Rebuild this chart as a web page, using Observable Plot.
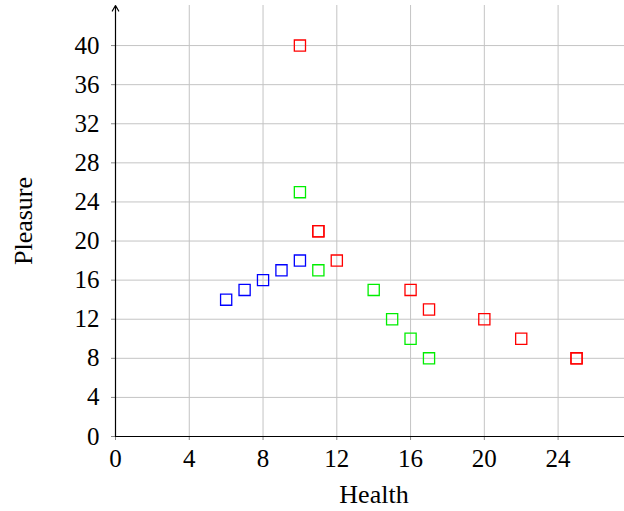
<!DOCTYPE html>
<html>
<head>
<meta charset="utf-8">
<script src="https://cdn.jsdelivr.net/npm/d3@7"></script>
<script src="https://cdn.jsdelivr.net/npm/@observablehq/plot@0.6"></script>
<style>
  html, body { margin: 0; padding: 0; background: #fff; }
  #chart svg { display: block; }
</style>
</head>
<body>
<div id="chart"></div>
<script>
const blueHealth = [6, 7, 8, 9, 10];
const bluePleasure = [14, 15, 16, 17, 18];
const greenHealth = [10, 11, 14, 15, 16, 17];
const greenPleasure = [25, 17, 15, 12, 10, 8];
const redHealth = [10, 11, 11, 12, 16, 17, 20, 22, 25, 25];
const redPleasure = [40, 21, 21, 18, 15, 13, 12, 10, 8, 8];
const xTicks = [0, 4, 8, 12, 16, 20, 24];
const yTicks = [0, 4, 8, 12, 16, 20, 24, 28, 32, 36, 40];

const series = [
  {name: "blue", color: "#0000ff", xs: blueHealth, ys: bluePleasure},
  {name: "green", color: "#00ee00", xs: greenHealth, ys: greenPleasure},
  {name: "red", color: "#ff0000", xs: redHealth, ys: redPleasure}
];
const points = series.flatMap(s => s.xs.map((x, i) => ({x, y: s.ys[i], c: s.color})));

const font = "'Liberation Serif', 'DejaVu Serif', serif";

const chart = Plot.plot({
  width: 624,
  height: 511,
  marginLeft: 115,
  marginRight: 0,
  marginTop: 5,
  marginBottom: 75,
  style: {fontFamily: font, fontSize: "25px", background: "#fff"},
  x: {domain: [0, 27.6], ticks: xTicks},
  y: {domain: [0, 44.1], ticks: yTicks},
  marks: [
    Plot.gridX(xTicks, {stroke: "#c4c4c4", strokeOpacity: 1, strokeWidth: 1}),
    Plot.gridY(yTicks, {stroke: "#c4c4c4", strokeOpacity: 1, strokeWidth: 1}),
    Plot.axisX({ticks: xTicks, tickSize: 4, tickPadding: 9, stroke: "#888", fill: "#000", label: null, fontSize: 25}),
    Plot.axisY({ticks: yTicks, tickSize: 4, tickPadding: 12, stroke: "#888", fill: "#000", label: null, fontSize: 25}),
    Plot.ruleY([0], {stroke: "#000", strokeWidth: 1.2}),
    Plot.arrow([{x1: 0, y1: 0, x2: 0, y2: 44.1}], {x1: "x1", y1: "y1", x2: "x2", y2: "y2", stroke: "#000", strokeWidth: 1.2, headLength: 8, insetEnd: 0}),
    Plot.dot(points, {x: "x", y: "y", symbol: "square", r: 6.3, stroke: d => d.c, fill: "none", strokeWidth: 1.3}),
    Plot.text(["Health"], {frameAnchor: "bottom", dx: 4, dy: 66, fontSize: 26, fill: "#000"}),
    Plot.text(["Pleasure"], {frameAnchor: "left", textAnchor: "middle", dx: -92, dy: 0, rotate: -90, fontSize: 26, fill: "#000"})
  ]
});
document.getElementById("chart").appendChild(chart);
</script>
</body>
</html>
